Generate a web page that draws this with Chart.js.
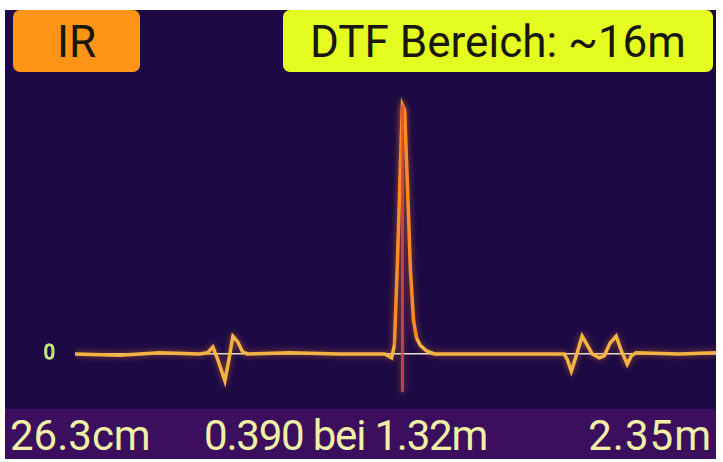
<!DOCTYPE html>
<html>
<head>
<meta charset="utf-8">
<script src="https://cdn.jsdelivr.net/npm/chart.js@4"></script>
<style>
  body{margin:0;background:#fff;width:723px;height:462px;overflow:hidden;font-family:Roboto,sans-serif}
  #screen{position:absolute;left:5px;top:10px;width:711px;height:449px;background:#1d0a45;overflow:hidden}
  .box{position:absolute;top:0;height:62px;border-radius:7px;color:#17170a;font-size:44px;line-height:64px;text-align:center}
  #ir{left:8px;width:127px;background:#ff9416}
  #dtf{left:278px;width:430px;background:#e4fc1f}
  #band{position:absolute;left:0;top:399px;width:711px;height:50px;background:#3b0f5e}
  .lbl{position:absolute;top:0;font-size:42px;line-height:54px;color:#f2f0a6}
  #wrap{position:absolute;left:0;top:70px;width:711px;height:327px}
</style>
</head>
<body>
<div id="screen">
  <div class="box" id="ir">IR</div>
  <div class="box" id="dtf">DTF Bereich: ~16m</div>
  <div id="wrap"><canvas id="dtf-chart"></canvas></div>
  <div id="band">
    <span class="lbl" style="left:5px">26.3cm</span>
    <span class="lbl" style="left:199px;letter-spacing:-1.2px">0.390 bei 1.32m</span>
    <span class="lbl" style="right:4px;letter-spacing:1px">2.35m</span>
  </div>
</div>
<script>
// distance in m and reflection value
const distM = [0.254, 0.400, 0.530, 0.660, 0.686, 0.703, 0.719, 0.742, 0.755, 0.768, 0.784, 0.800, 0.816,
  0.953, 1.115, 1.262, 1.285, 1.294, 1.304, 1.314, 1.320, 1.327, 1.337, 1.346, 1.356, 1.366, 1.379, 1.398, 1.424,
  1.571, 1.766, 1.847, 1.857, 1.870, 1.886, 1.905, 1.922, 1.938, 1.961, 1.977, 1.996, 2.016, 2.032, 2.052, 2.065, 2.081,
  2.221, 2.341];
const refl = [0, -0.002, 0.002, 0, 0.002, 0.011, -0.009, -0.042, -0.009, 0.028, 0.019, 0.003, 0,
  0.002, 0, 0, -0.006, 0.014, 0.147, 0.304, 0.390, 0.382, 0.257, 0.132, 0.053, 0.025, 0.013, 0.005, 0,
  0, 0, 0, -0.009, -0.027, -0.003, 0.028, 0.014, 0, -0.006, -0.003, 0.017, 0.028, 0.006, -0.016, -0.003, 0.002,
  0, 0.002];

// cursor at the peak
const cursorX = [1.32, 1.32];
const cursorY = [0.39, -0.06];

const xRange = [0.254, 2.341];
const yRange = [-0.083, 0.429];
const yTicks = [0];

// soft glow round the trace
const glow = {
  id: "glow",
  beforeDatasetsDraw(chart) {
    chart.ctx.save();
    chart.ctx.shadowColor = "rgba(255,140,40,0.55)";
    chart.ctx.shadowBlur = 6;
  },
  afterDatasetsDraw(chart) {
    chart.ctx.restore();
  }
};

const ctx = document.getElementById('dtf-chart');

const dtfChart = new Chart(ctx, {
  type: "line",
  data: {
    datasets: [{
      data: cursorX.map((x, i) => ({x: x, y: cursorY[i]})),
      borderColor: "rgba(222,70,70,0.85)",
      borderWidth: 3,
      pointRadius: 0
    }, {
      data: distM.map((x, i) => ({x: x, y: refl[i]})),
      borderColor: "#f3b443",
      borderWidth: 3.5,
      pointRadius: 0,
      tension: 0,
      segment: {
        // peak is drawn more orange
        borderColor: c => (c.p0.parsed.y > 0.05 || c.p1.parsed.y > 0.05) ? "#ff8c24" : undefined
      }
    }]
  },
  options: {
    responsive: true,
    maintainAspectRatio: false,
    animation: false,
    layout: {padding: 0},
    plugins: {
      legend: {display: false},
      tooltip: {enabled: false}
    },
    scales: {
      x: {type: "linear", min: xRange[0], max: xRange[1], display: false},
      y: {
        min: yRange[0], max: yRange[1],
        afterFit: s => { s.width = 70; s.paddingTop = 0; s.paddingBottom = 0; },
        afterBuildTicks: s => { s.ticks = yTicks.map(v => ({value: v})); },
        grid: {color: "#e6e6d2", lineWidth: 1.5, drawTicks: false},
        border: {display: false},
        ticks: {color: "#b6f05a", textStrokeColor: "#f4f4d0", textStrokeWidth: 1, font: {size: 20, family: "Roboto"}, padding: 20}
      }
    }
  },
  plugins: [glow]
});
</script>
</body>
</html>
